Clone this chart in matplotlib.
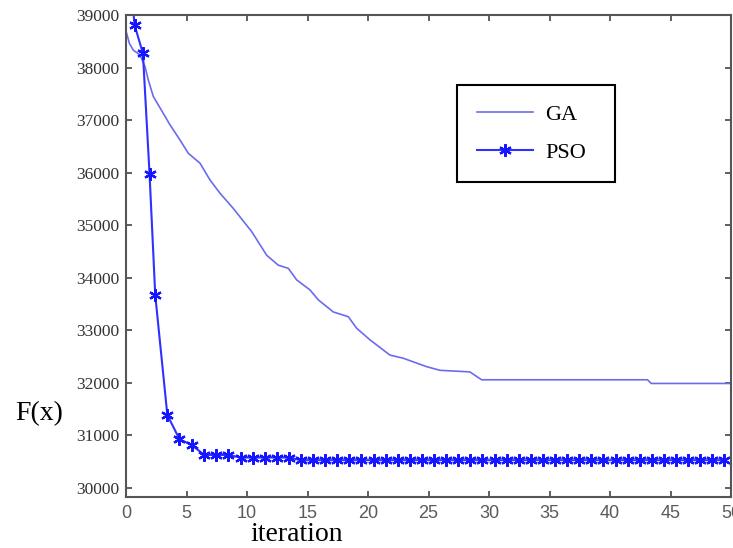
import matplotlib
matplotlib.use("Agg")
import matplotlib.pyplot as plt

# GA convergence curve
ga_x = [0, 0.26, 0.59, 1.14, 1.55, 1.83, 2.24, 2.65, 3.62, 4.45, 5.13, 6.10,
        6.93, 7.75, 8.85, 10.37, 11.61, 12.57, 13.40, 14.09, 15.19, 15.88,
        17.12, 18.36, 19.05, 20.15, 21.80, 22.90, 24.83, 25.93, 28.41, 29.38,
        43.1, 43.4, 50]
ga_y = [38680, 38460, 38330, 38240, 38020, 37760, 37450, 37290, 36910, 36620,
        36370, 36180, 35860, 35610, 35320, 34880, 34430, 34240, 34180, 33960,
        33770, 33580, 33350, 33260, 33040, 32820, 32530, 32470, 32310, 32240,
        32210, 32060, 32060, 31990, 31990]

# PSO convergence curve (marker positions)
pso_x = [0.45, 0.69, 1.38, 1.93, 2.40, 3.40, 4.40, 5.41, 6.45, 7.45, 8.45,
         9.45, 10.45, 11.45, 12.45, 13.45, 14.45, 15.45, 16.45, 17.45, 18.45,
         19.45, 20.45, 21.45, 22.45, 23.45, 24.45, 25.45, 26.45, 27.45, 28.45,
         29.45, 30.45, 31.45, 32.45, 33.45, 34.45, 35.45, 36.45, 37.45, 38.45,
         39.45, 40.45, 41.45, 42.45, 43.45, 44.45, 45.45, 46.45, 47.45, 48.45,
         49.45]
pso_y = [39400, 38810, 38270, 35970, 33670, 31390, 30930, 30820, 30630, 30630,
         30630, 30580, 30580, 30580, 30580, 30580, 30530, 30530, 30530, 30530,
         30530, 30530, 30530, 30530, 30530, 30530, 30530, 30530, 30530, 30530,
         30530, 30530, 30530, 30530, 30530, 30530, 30530, 30530, 30530, 30530,
         30530, 30530, 30530, 30530, 30530, 30530, 30530, 30530, 30530, 30530,
         30530, 30530]

x_ticks = list(range(0, 51, 5))
y_ticks = list(range(30000, 39001, 1000))

fig = plt.figure(figsize=(7.33, 5.48), dpi=100)
ax = fig.add_axes([0.1722, 0.0931, 0.8251, 0.8795])

ax.plot(ga_x, ga_y, color='#6b6bf0', lw=1.2, label='GA')
ax.plot(pso_x, pso_y, color='#3030ff', lw=1.5, marker=(6, 2, 0), markersize=9,
        markeredgewidth=1.6, markeredgecolor='#1515ff', label='PSO')

ax.set_xlim(0, 50)
ax.set_ylim(29830, 39000)
ax.set_xticks(x_ticks)
ax.set_yticks(y_ticks)
ax.set_yticklabels([str(v) for v in y_ticks], family='Liberation Serif',
                   fontsize=12.5, color='#333333')
ax.set_xticklabels([str(v) for v in x_ticks], family='Liberation Sans',
                   fontsize=13, color='#5a5a5a')
ax.tick_params(direction='in', top=True, right=True, length=4, width=1.2,
               color='#444444')
ax.tick_params(axis='x', pad=6)
ax.tick_params(axis='y', pad=5)
for s in ax.spines.values():
    s.set_color('#555555')
    s.set_linewidth(1.5)

leg = ax.legend(loc='upper left', bbox_to_anchor=(0.5475, 0.62, 0.2605, 0.2348),
                mode='expand', borderaxespad=0, fancybox=False, framealpha=1,
                edgecolor='black', numpoints=1, handlelength=2.55,
                handletextpad=0.55, labelspacing=0.78, borderpad=0.87,
                prop={'family': 'Liberation Serif', 'size': 16})
leg.get_frame().set_linewidth(1.5)

fig.text(0.405, 0.012, 'iteration', family='Liberation Serif', fontsize=20,
         ha='center', va='baseline')
fig.text(0.0205, 0.234, 'F(x)', family='Liberation Serif', fontsize=20,
         ha='left', va='baseline')

fig.savefig('out.png', dpi=100)
